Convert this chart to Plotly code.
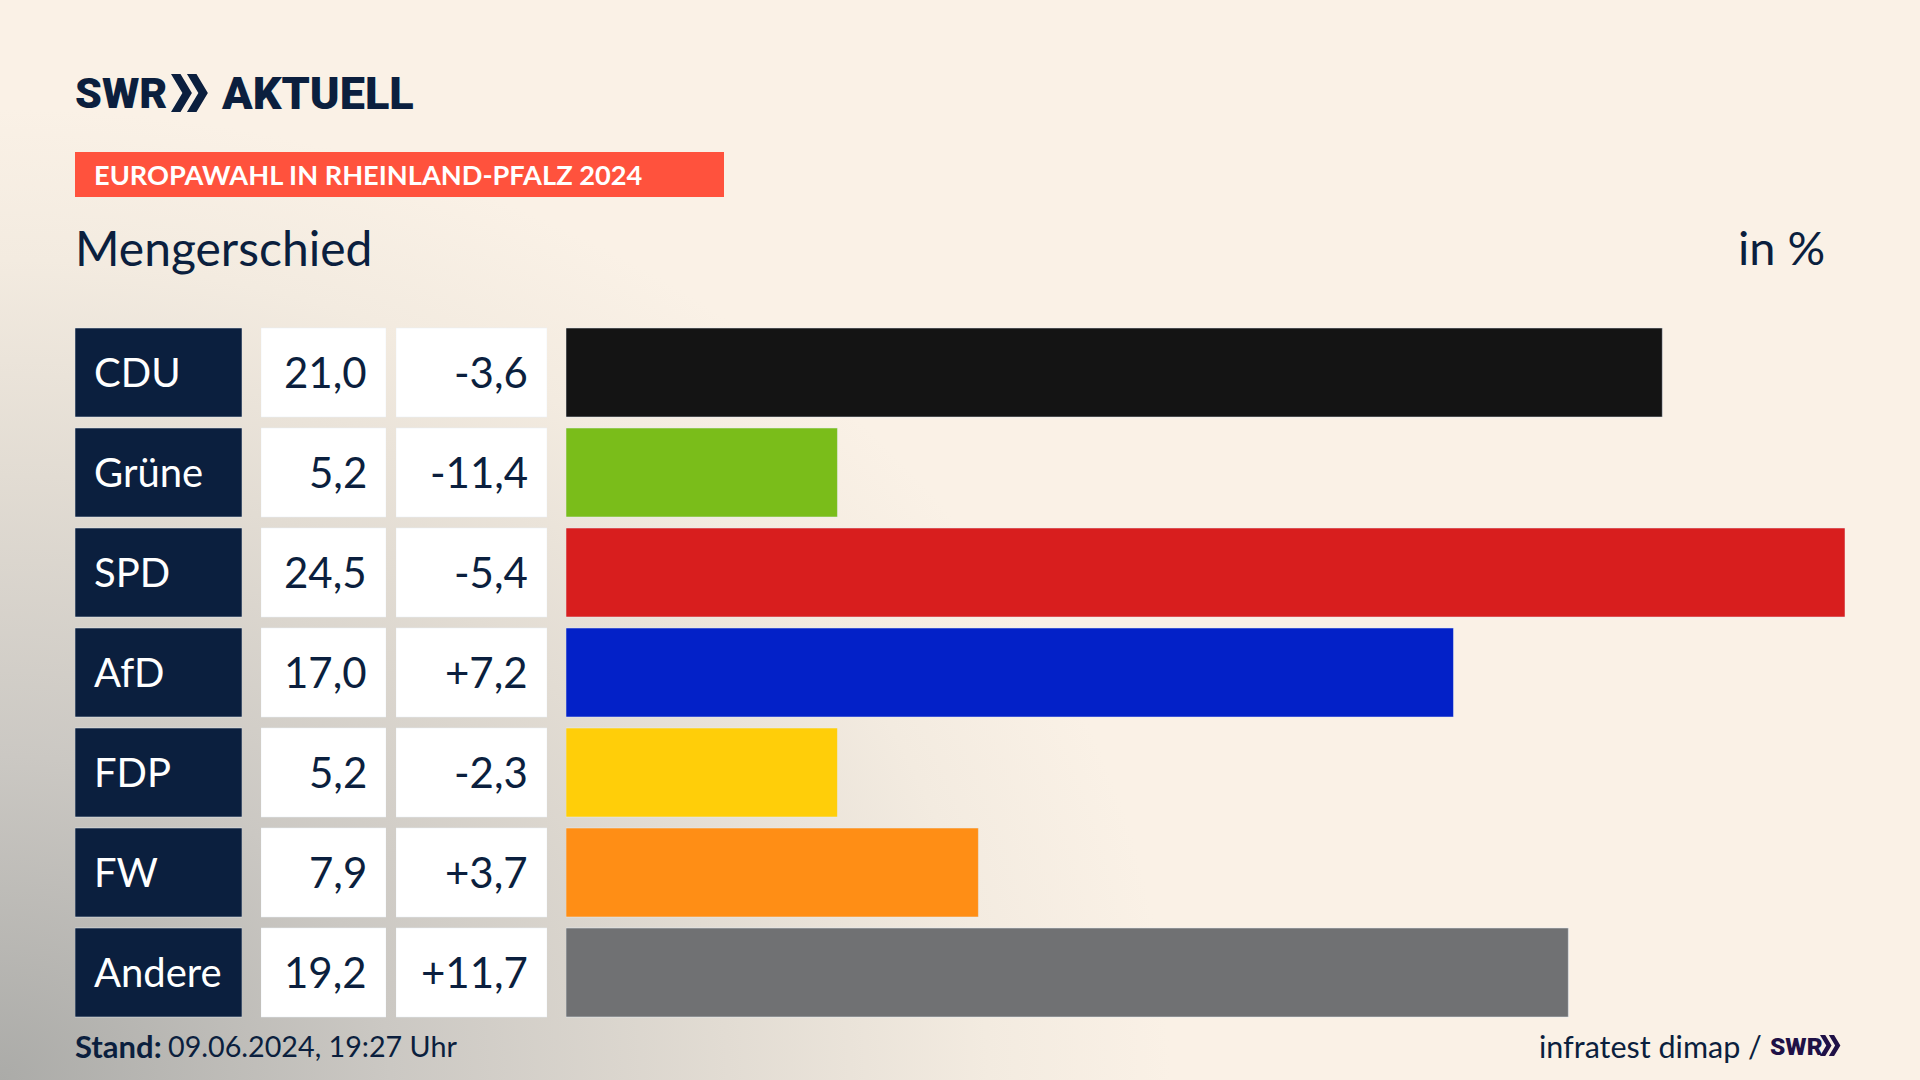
import plotly.graph_objects as go

# data
parties = ['CDU', 'Grüne', 'SPD', 'AfD', 'FDP', 'FW', 'Andere']
shares = [21.0, 5.2, 24.5, 17.0, 5.2, 7.9, 19.2]
diffs = [-3.6, -11.4, -5.4, 7.2, -2.3, 3.7, 11.7]
colors = ['#141414', '#7ABD1A', '#D81E1E', '#0321C8', '#FFCE09', '#FF8E15', '#707173']

NAVY = '#0B1F3E'
FONT = 'Lato'
LOGO_FONT = 'Roboto'
W, H = 1920, 1080


def px(x):
    return x / W


def py(y):
    return 1 - y / H


def de(v, sign=False):
    s = f'{v:+.1f}' if sign else f'{v:.1f}'
    return s.replace('.', ',')


def label(text, x, y, size, color=NAVY, anchor='left', weight=400, yref='paper', family=FONT, shift=0):
    fig.add_annotation(
        x=px(x), y=py(y) if yref == 'paper' else y, xref='paper', yref=yref,
        text=text, showarrow=False, xanchor=anchor, yanchor='middle', yshift=shift,
        font=dict(family=family, size=size, color=color, weight=weight),
    )


def chevrons(x, y, h, color):
    # the two arrows of the SWR logo
    w = h * 0.30
    t = h * 0.25
    for k in (0, 1):
        x0 = x + k * h * 0.42
        path = (f'M{px(x0)},{py(y)} L{px(x0 + t)},{py(y)} L{px(x0 + t + w)},{py(y + h / 2)} '
                f'L{px(x0 + t)},{py(y + h)} L{px(x0)},{py(y + h)} L{px(x0 + w)},{py(y + h / 2)} Z')
        fig.add_shape(type='path', path=path, xref='paper', yref='paper',
                      fillcolor=color, line_width=0)


fig = go.Figure()

# three table columns and the bars, each on its own x axis
cell = [1] * len(parties)
fig.add_trace(go.Bar(x=cell, y=parties, orientation='h', xaxis='x2', marker_color=NAVY, width=0.89))
fig.add_trace(go.Bar(x=cell, y=parties, orientation='h', xaxis='x3', marker_color='white', width=0.89))
fig.add_trace(go.Bar(x=cell, y=parties, orientation='h', xaxis='x4', marker_color='white', width=0.89))
fig.add_trace(go.Bar(x=shares, y=parties, orientation='h', xaxis='x', marker_color=colors, width=0.89))

hidden = dict(visible=False, fixedrange=True)
fig.update_layout(
    width=W, height=H,
    margin=dict(l=0, r=0, t=0, b=0),
    paper_bgcolor='rgba(0,0,0,0)',
    plot_bgcolor='rgba(0,0,0,0)',
    showlegend=False,
    hovermode=False,
    barmode='overlay',
    xaxis=dict(domain=[px(566), px(1845)], range=[0, 24.5], anchor='y', **hidden),
    xaxis2=dict(domain=[px(75), px(242)], range=[0, 1], anchor='y', **hidden),
    xaxis3=dict(domain=[px(261), px(386)], range=[0, 1], anchor='y', **hidden),
    xaxis4=dict(domain=[px(396), px(547)], range=[0, 1], anchor='y', **hidden),
    yaxis=dict(domain=[py(1022.5), py(322.5)], categoryorder='array',
               categoryarray=parties, autorange='reversed', **hidden),
)

# table text
for i, party in enumerate(parties):
    label(party, 92, party, 40, color='white', yref='y', shift=1)
    label(de(shares[i]), 369, party, 42, anchor='right', yref='y', shift=1)
    label(de(diffs[i], sign=True), 530, party, 42, anchor='right', yref='y', shift=1)

# header
label('SWR', 73, 93, 43, weight=900, family=LOGO_FONT)
chevrons(171, 74, 38, NAVY)
label('AKTUELL', 219, 93, 45, weight=900, family=LOGO_FONT)
fig.add_shape(type='rect', x0=px(75), x1=px(724), y0=py(152), y1=py(197), xref='paper', yref='paper',
              fillcolor='#FF523D', line_width=0, layer='below')
label('EUROPAWAHL IN RHEINLAND-PFALZ 2024', 92, 175, 27.2, color='white', weight=700)
label('Mengerschied', 73, 247, 48)
label('in %', 1827, 247, 47, anchor='right')

# footer
label('<b>Stand:</b>', 73, 1046, 31)
label('09.06.2024, 19:27 Uhr', 166, 1046, 28.7)
label('infratest dimap /', 1764, 1046, 30.5, anchor='right')
label('SWR', 1768, 1046, 24.5, color='#1F1147', weight=900, family=LOGO_FONT)
chevrons(1820, 1035, 21, '#1F1147')

page = """
document.body.style.margin = '0';
document.body.style.background =
  'radial-gradient(ellipse 1300px 1080px at 0% 100%, #ABABA8 0%, #CBC8C3 30%, #E2DCD3 56%, #F3EBE0 76%, #FAF1E6 90%)';
"""
fig.write_html("out.html", post_script=page, config=dict(displayModeBar=False))
